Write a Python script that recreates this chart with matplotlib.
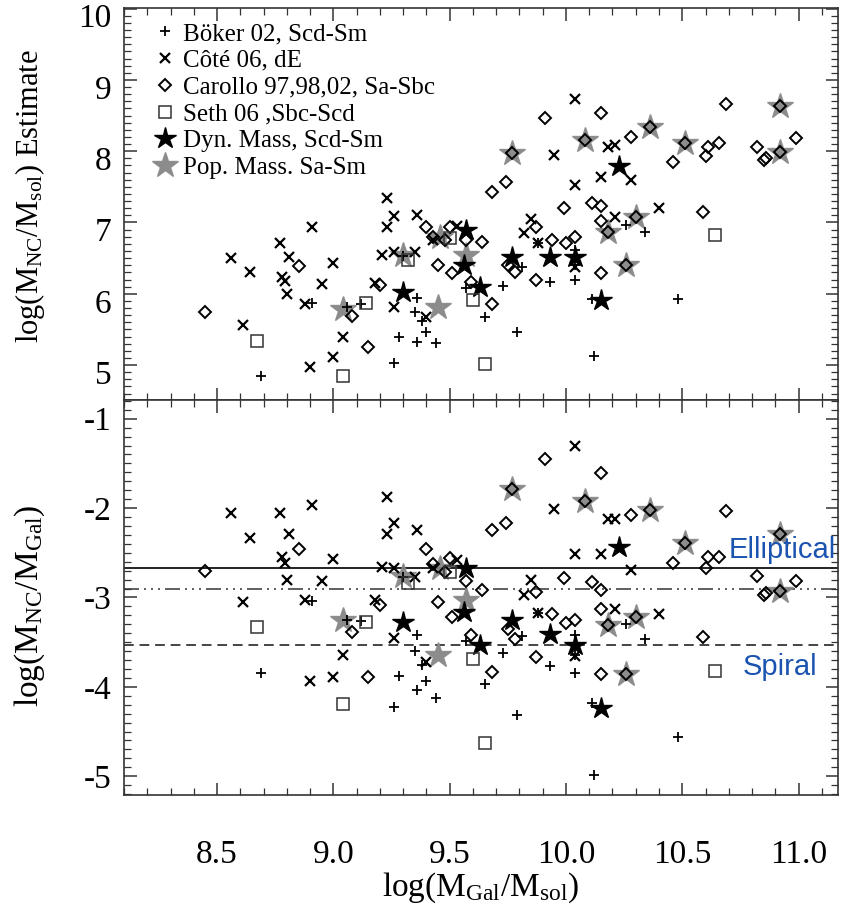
import matplotlib.pyplot as plt
from matplotlib.ticker import MultipleLocator
from matplotlib.transforms import ScaledTranslation
import numpy as np

plt.rcParams['font.family'] = ['Liberation Serif', 'DejaVu Serif']
plt.rcParams['mathtext.fontset'] = 'custom'
plt.rcParams['mathtext.rm'] = 'Liberation Serif'
plt.rcParams['mathtext.it'] = 'Liberation Serif:italic'
plt.rcParams['axes.unicode_minus'] = False

# log(M_gal) and log(M_NC) per sample
boker_gal = [8.69, 8.91, 9.06, 9.12, 9.30, 9.36, 9.35, 9.38, 9.40, 9.28, 9.36, 9.44, 9.26,
             9.57, 9.73, 9.65, 9.79, 9.81, 9.88, 9.93, 10.04, 10.04, 10.04, 10.11, 10.12,
             10.26, 10.34, 10.48]
boker_nc = [4.85, 5.87, 5.81, 5.86, 6.53, 5.94, 5.75, 5.62, 5.46, 5.40, 5.33, 5.31, 5.03,
            6.08, 6.11, 5.68, 5.47, 6.38, 6.71, 6.16, 6.19, 6.40, 6.62, 5.93, 5.13,
            6.96, 6.87, 5.92]

cote_gal = [8.56, 8.64, 8.77, 8.81, 8.78, 8.79, 8.80, 8.61, 8.88, 8.91, 8.95, 9.00, 9.04,
            9.00, 8.90, 9.23, 9.26, 9.23, 9.36, 9.21, 9.26, 9.35, 9.18, 9.26, 9.40, 9.43,
            9.53, 9.82, 9.85, 9.88, 9.95, 10.04, 10.04, 10.15, 10.18, 10.21, 10.28, 10.21,
            10.40, 10.04]
cote_nc = [6.50, 6.30, 6.71, 6.52, 6.23, 6.18, 6.00, 5.56, 5.85, 6.94, 6.14, 6.43, 5.40,
           5.11, 4.97, 7.35, 7.09, 6.94, 7.11, 6.55, 6.59, 6.58, 6.15, 5.81, 5.68, 6.76,
           6.95, 6.85, 7.05, 6.71, 7.94, 8.73, 7.53, 7.64, 8.06, 8.09, 7.59, 7.08,
           7.21, 6.38]

carollo_gal = [8.45, 8.85, 9.20, 9.08, 9.15, 9.40, 9.45, 9.43, 9.50, 9.48, 9.51, 9.57,
               9.64, 9.59, 9.68, 9.68, 9.74, 9.75, 9.78, 9.87, 9.87, 9.91, 9.94, 9.99,
               10.00, 10.04, 10.11, 10.15, 10.15, 10.15, 10.15, 10.28, 10.46, 10.59,
               10.61, 10.60, 10.66, 10.69, 10.82, 10.85, 10.86, 10.99,
               9.77, 10.08, 10.36, 10.51, 10.92, 10.92, 10.30, 10.18, 10.26]
carollo_nc = [5.75, 6.39, 6.12, 5.69, 5.26, 6.94, 6.40, 6.80, 6.94, 6.76, 6.29, 6.75,
              6.72, 6.17, 5.85, 7.43, 7.57, 6.40, 6.31, 6.93, 6.20, 8.46, 6.75, 7.21,
              6.71, 6.79, 7.28, 7.23, 7.02, 8.54, 6.29, 8.20, 7.85, 7.15,
              8.06, 7.93, 8.11, 8.66, 8.06, 7.88, 7.91, 8.18,
              7.98, 8.16, 8.34, 8.12, 8.63, 7.99, 7.08, 6.87, 6.40]

seth_gal = [8.67, 9.14, 9.04, 9.32, 9.50, 9.60, 9.65, 10.64]
seth_nc = [5.34, 5.87, 4.85, 6.48, 6.78, 5.91, 5.02, 6.82]

dyn_gal = [9.30, 9.57, 9.56, 9.63, 9.77, 9.93, 10.04, 10.15, 10.23]
dyn_nc = [6.03, 6.90, 6.40, 6.10, 6.52, 6.52, 6.51, 5.91, 7.79]

pop_gal = [9.04, 9.30, 9.45, 9.46, 9.57, 9.77, 10.08, 10.18, 10.26, 10.30, 10.36, 10.51,
           10.92, 10.92]
pop_nc = [5.79, 6.54, 5.81, 6.79, 6.54, 7.98, 8.16, 6.87, 6.40, 7.08, 8.34, 8.12,
          8.63, 7.99]

labels = ['Böker 02, Scd-Sm', 'Côté 06, dE', 'Carollo 97,98,02, Sa-Sbc',
          'Seth 06 ,Sbc-Scd', 'Dyn. Mass, Scd-Sm', 'Pop. Mass. Sa-Sm']

# reference ratios drawn in the lower panel
elliptical_ratio = -2.67
mid_ratio = -2.91
spiral_ratio = -3.53

fig = plt.figure(figsize=(8.44, 9.14), dpi=100)
ax1 = fig.add_axes([0.147, 0.5624, 0.846, 0.4289])
ax2 = fig.add_axes([0.147, 0.1302, 0.846, 0.4322], sharex=ax1)


def draw_points(ax, ratio):
    def y(gal, nc):
        gal = np.array(gal)
        nc = np.array(nc)
        return nc - gal if ratio else nc

    ax.plot(pop_gal, y(pop_gal, pop_nc), ls='none', marker='*', ms=19,
            color='#808080', mec='#8a8a8a', alpha=0.9, zorder=2, label=labels[5])
    ax.plot(dyn_gal, y(dyn_gal, dyn_nc), ls='none', marker='*', ms=16,
            color='black', zorder=3, label=labels[4])
    ax.plot(boker_gal, y(boker_gal, boker_nc), ls='none', marker='+', ms=7.5,
            mew=1.3, color='black', zorder=4, label=labels[0])
    ax.plot(cote_gal, y(cote_gal, cote_nc), ls='none', marker='x', ms=7,
            mew=1.6, color='black', zorder=4, label=labels[1])
    ax.plot(carollo_gal, y(carollo_gal, carollo_nc), ls='none', marker='D', ms=6,
            mew=1.4, mfc='none', mec='black', zorder=4, label=labels[2])
    ax.plot(seth_gal, y(seth_gal, seth_nc), ls='none', marker='s', ms=8.5,
            mew=1.1, mfc='none', mec='#333333', zorder=4, label=labels[3])


draw_points(ax1, False)
draw_points(ax2, True)

ax2.axhline(elliptical_ratio, color='#222222', lw=1.4, zorder=1)
ax2.axhline(mid_ratio, color='#444444', lw=1.2, zorder=1,
            dashes=(9, 3, 1.2, 3, 1.2, 3, 1.2, 3))
ax2.axhline(spiral_ratio, color='#444444', lw=1.4, zorder=1, dashes=(5, 3))

ax2.text(10.93, -2.47, 'Elliptical', color='#1a53b0', fontsize=21,
         family='Liberation Sans', ha='center', va='center', clip_on=False)
ax2.text(10.92, -3.78, 'Spiral', color='#1a53b0', fontsize=21,
         family='Liberation Sans', ha='center', va='center')

ax1.set_xlim(8.1, 11.17)
ax1.set_ylim(4.51, 10.01)
ax2.set_ylim(-5.21, -0.79)

ax1.xaxis.set_major_locator(MultipleLocator(0.5))
ax1.xaxis.set_minor_locator(MultipleLocator(0.1))
ax1.yaxis.set_major_locator(MultipleLocator(1))
ax1.yaxis.set_minor_locator(MultipleLocator(0.1))
ax2.yaxis.set_major_locator(MultipleLocator(1))
ax2.yaxis.set_minor_locator(MultipleLocator(0.1))
ax2.set_xticks([8.5, 9.0, 9.5, 10.0, 10.5, 11.0])
ax2.set_xticklabels(['8.5', '9.0', '9.5', '10.0', '10.5', '11.0'])
ax2.set_yticks([-1, -2, -3, -4, -5])
ax2.set_yticklabels(['-1', '-2', '-3', '-4', '-5'])

for ax in (ax1, ax2):
    ax.tick_params(which='both', direction='in', top=True, right=True,
                   colors='#333333', labelcolor='black', labelsize=24)
    ax.tick_params(which='major', length=9, width=1.1)
    ax.tick_params(which='minor', length=5, width=0.9)
    ax.tick_params(axis='y', pad=9)
    for s in ax.spines.values():
        s.set_linewidth(1.2)
        s.set_color('#333333')

ax1.tick_params(axis='x', labelbottom=False)
ax2.tick_params(axis='x', pad=32)

# the top panel's numbers sit a little below their ticks, so "10" stays inside
shift = ScaledTranslation(0, -0.07, fig.dpi_scale_trans)
for lab in ax1.get_yticklabels():
    lab.set_transform(lab.get_transform() + shift)

ax1.set_ylabel('log(M$_{\\rm NC}$/M$_{\\rm sol}$) Estimate', fontsize=22)
ax2.set_ylabel('log(M$_{\\rm NC}$/M$_{\\rm Gal}$)', fontsize=24)
ax2.set_xlabel('log(M$_{\\rm Gal}$/M$_{\\rm sol}$)', fontsize=24)
ax1.yaxis.set_label_coords(-0.108, 0.52)
ax2.yaxis.set_label_coords(-0.108, 0.48)
ax2.xaxis.set_label_coords(0.5, -0.19)

handles, labs = ax1.get_legend_handles_labels()
order = [labs.index(l) for l in labels]
ax1.legend([handles[i] for i in order], [labs[i] for i in order],
           loc='upper left', bbox_to_anchor=(0.027, 0.985), frameon=False,
           fontsize=18, labelspacing=0.17, handlelength=1.0,
           handletextpad=0.25, borderpad=0.25, borderaxespad=0.1)

fig.savefig('out.png', dpi=100)
